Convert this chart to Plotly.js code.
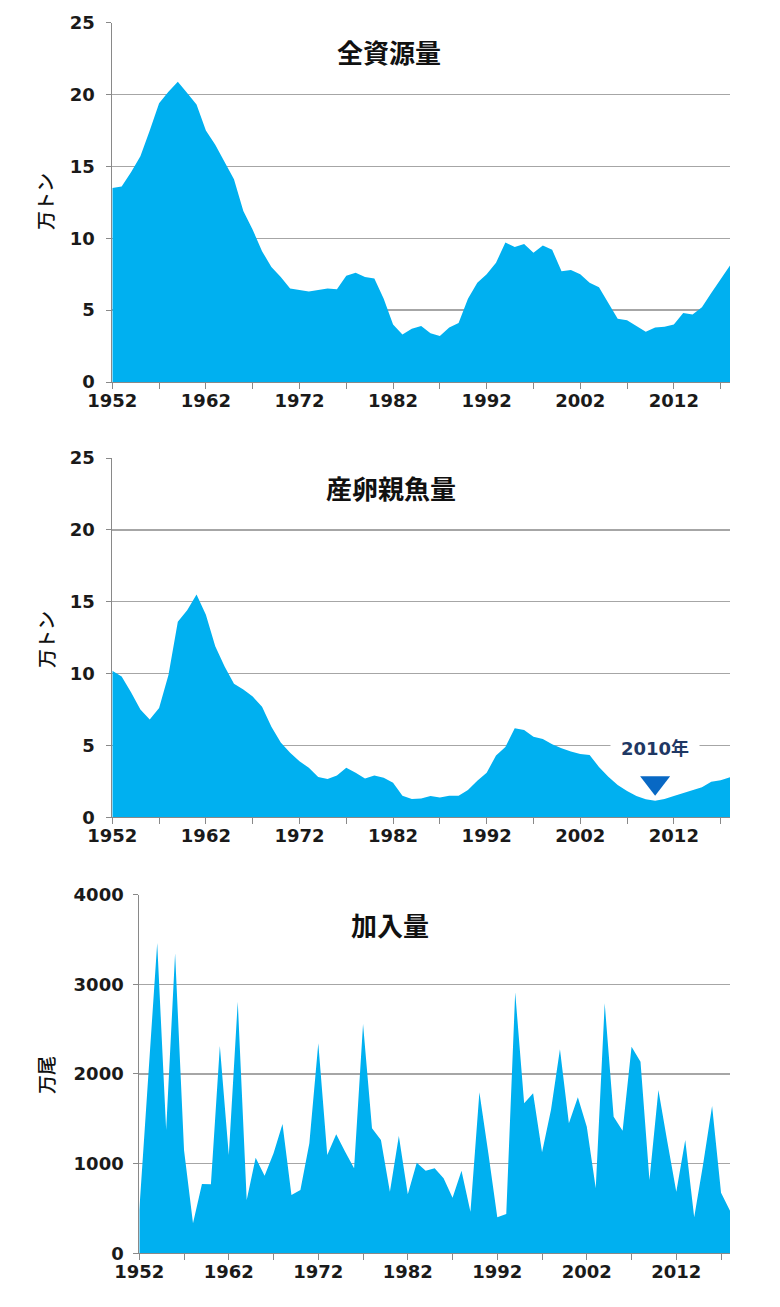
<!DOCTYPE html>
<html><head><meta charset="utf-8">
<script src="https://cdn.plot.ly/plotly-3.0.1.min.js"></script>
<style>body{margin:0;background:#fff}#c{width:780px;height:1307px}</style>
</head><body><div id="c"></div>
<script>
const years = [];
for (let y = 1952; y <= 2018; y++) years.push(y);

const totalBiomass = [13.5,13.6,14.6,15.7,17.5,19.4,20.2,20.9,20.1,19.3,17.5,16.5,15.3,14.1,11.9,10.6,9.1,8.0,7.3,6.5,6.4,6.3,6.4,6.5,6.45,7.4,7.6,7.3,7.2,5.8,4.0,3.3,3.7,3.9,3.4,3.2,3.8,4.1,5.8,6.9,7.5,8.3,9.7,9.4,9.6,9.0,9.5,9.2,7.7,7.8,7.5,6.9,6.6,5.5,4.4,4.3,3.9,3.5,3.8,3.85,4.0,4.8,4.7,5.2,6.2,7.15,8.1];

const spawningBiomass = [10.2,9.8,8.7,7.5,6.8,7.6,9.9,13.6,14.4,15.5,14.1,11.9,10.5,9.3,8.9,8.4,7.7,6.3,5.2,4.5,3.9,3.45,2.8,2.67,2.9,3.45,3.1,2.7,2.9,2.76,2.4,1.5,1.27,1.3,1.48,1.37,1.5,1.5,1.9,2.55,3.1,4.3,4.9,6.2,6.08,5.6,5.45,5.08,4.8,4.57,4.4,4.34,3.5,2.83,2.25,1.83,1.48,1.25,1.16,1.27,1.48,1.67,1.85,2.09,2.48,2.58,2.78];

const recruitment = [480,1980,3460,1375,3345,1150,335,773,770,2311,1096,2805,594,1066,865,1115,1441,650,706,1226,2341,1096,1327,1133,948,2556,1394,1263,687,1308,658,1010,921,948,836,620,921,464,1795,1115,401,438,2910,1672,1784,1126,1600,2274,1449,1739,1411,725,2787,1523,1367,2303,2136,817,1821,1244,687,1263,401,996,1642,676,475];

const tickYears = [];
for (let y = 1952; y <= 2017; y += 5) tickYears.push(y);
const tickLabels = tickYears.map(y => ((y - 1952) % 10 === 0) ? String(y) : '');

const panelTitles = ['全資源量', '産卵親魚量', '加入量'];
const yTitles = ['万トン', '万トン', '万尾'];
const markYear = 2010;
const markLabel = '2010年';

const W = 780, H = 1307;
const fx = p => p / W;
const fy = p => (H - p) / H;

const fillColor = '#00B0F0';
const gridColor = '#A6A6A6';
const axisColor = '#898989';
const tickFont = {family: 'DejaVu Sans, Verdana, sans-serif', size: 18, color: '#1a1a1a', weight: 'bold'};

function area(y, xa, ya) {
  return {x: years, y: y, xaxis: xa, yaxis: ya, type: 'scatter', mode: 'lines',
    fill: 'tozeroy', fillcolor: fillColor, line: {width: 0, color: fillColor},
    hoverinfo: 'skip', showlegend: false};
}

const data = [
  area(totalBiomass, 'x', 'y'),
  area(spawningBiomass, 'x2', 'y2'),
  area(recruitment, 'x3', 'y3'),
  {x: [markYear], y: [2.4], xaxis: 'x2', yaxis: 'y2', type: 'scatter', mode: 'markers',
   marker: {symbol: 'triangle-down', size: 26, color: '#0868C4', line: {width: 0}},
   hoverinfo: 'skip', showlegend: false}
];

function xax(left, right, anchor) {
  return {domain: [fx(left), fx(right)], range: [1952, 2018], anchor: anchor,
    tickmode: 'array', tickvals: tickYears, ticktext: tickLabels,
    ticks: 'outside', ticklen: 6, tickcolor: axisColor, tickwidth: 1, ticklabelstandoff: -4,
    showline: true, linecolor: axisColor, linewidth: 1, showgrid: false, zeroline: false,
    tickfont: tickFont, fixedrange: true};
}
function yax(top, bottom, max, dtick, anchor, standoff) {
  return {domain: [fy(bottom), fy(top)], range: [0, max], dtick: dtick, anchor: anchor,
    ticks: 'outside', ticklen: 5, tickcolor: axisColor, tickwidth: 1, ticklabelstandoff: standoff,
    showline: true, linecolor: axisColor, linewidth: 1,
    showgrid: true, gridcolor: gridColor, gridwidth: 1.3, zeroline: false,
    tickfont: tickFont, fixedrange: true};
}

function label(x, y, text, size, bold, angle) {
  return {xref: 'paper', yref: 'paper', x: fx(x), y: fy(y), xanchor: 'center', yanchor: 'middle',
    text: text, showarrow: false, textangle: angle || 0,
    font: {family: 'Noto Sans CJK JP', size: size, color: '#111', weight: bold ? 'bold' : 500}};
}

const layout = {
  width: W, height: H, margin: {l: 0, r: 0, t: 0, b: 0},
  paper_bgcolor: '#fff', plot_bgcolor: '#fff', showlegend: false,
  xaxis: xax(112.3, 730, 'y'),
  yaxis: yax(22.7, 382, 25, 5, 'x', 8),
  xaxis2: xax(112.3, 730, 'y2'),
  yaxis2: yax(458, 817.3, 25, 5, 'x2', 8),
  xaxis3: xax(139.3, 730, 'y3'),
  yaxis3: yax(894.5, 1253.3, 4000, 1000, 'x3', 6),
  annotations: [
    label(389, 52, panelTitles[0], 26, true),
    label(391, 488, panelTitles[1], 26, true),
    label(390, 924, panelTitles[2], 26, true),
    label(45, 202, yTitles[0], 19, false, -90),
    label(45, 640, yTitles[1], 19, false, -90),
    label(45, 1075, yTitles[2], 19, false, -90),
    {xref: 'x2', yref: 'y2', x: markYear, y: 4.8, xanchor: 'center', yanchor: 'middle',
     text: markLabel, showarrow: false, bgcolor: '#fff', borderpad: 10,
     font: {family: 'DejaVu Sans, Noto Sans CJK JP', size: 18, color: '#1F3864', weight: 'bold'}}
  ]
};

Plotly.newPlot('c', data, layout, {staticPlot: true, displayModeBar: false});
</script>
</body></html>
